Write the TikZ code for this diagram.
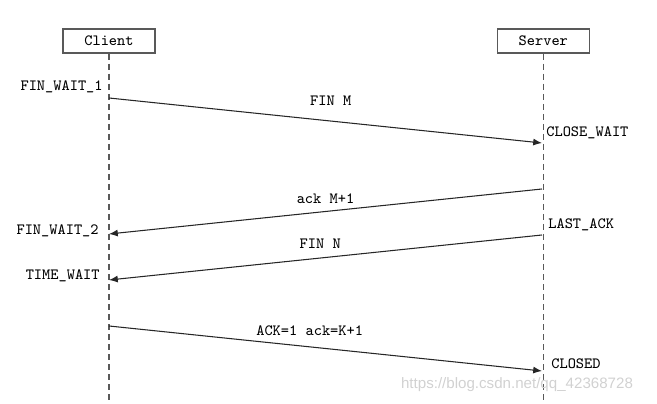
\documentclass[tikz,border=0pt]{standalone}
\usepackage{fontspec}
\setsansfont{Liberation Sans}
\usetikzlibrary{arrows.meta, positioning, calc}

\begin{document}
\begin{tikzpicture}[
            x=0.02cm, y=-0.02cm,
            box/.style={draw=black!65, line width=0.8pt, rectangle, minimum width=1.84cm, minimum height=0.48cm, inner sep=0pt, font=\ttfamily\fontsize{8.9}{10}\selectfont},
            state/.style={inner sep=0pt, font=\ttfamily\fontsize{8.9}{10}\selectfont},
            lbl/.style={inner sep=0pt, font=\ttfamily\fontsize{8.9}{10}\selectfont},
            life/.style={draw=black!65, line width=0.7pt, dash pattern=on 3.4pt off 2.3pt},
            msg/.style={->, draw=black!85, line width=0.6pt},
            >={Latex[length=5pt, width=4pt]}
        ]
            \useasboundingbox (0,0) rectangle (657,404);

            % Client and Server
            \node[box] (client) at (109,41) {Client};
            \node[box, right=6.82cm of client] (server) {Server};

            % Lifelines
            \draw[life] (client.south) -- (client.south |- 0,404);
            \draw[life] (server.south) -- (server.south |- 0,404);

            % Points on the lifelines
            \coordinate (c1) at (109,98);
            \coordinate (s1) at (542,143);
            \coordinate (s2) at (542,189);
            \coordinate (c2) at (109,234);
            \coordinate (s3) at (542,235);
            \coordinate (c3) at (109,280);
            \coordinate (c4) at (109,326);
            \coordinate (s4) at (542,371);

            % States
            \node[state, anchor=east] (fw1) at (103,87) {FIN\_WAIT\_1};
            \node[state, anchor=west] (cw) at (546,133) {CLOSE\_WAIT};
            \node[state, anchor=west] (la) at (548,225) {LAST\_ACK};
            \node[state, anchor=east] (fw2) at (99,231) {FIN\_WAIT\_2};
            \node[state, anchor=east] (tw) at (100,276) {TIME\_WAIT};
            \node[state, anchor=west] (cl) at (551,364) {CLOSED};

            % Messages
            \draw[msg] (c1) -- node[lbl, above=8pt, xshift=3pt] {FIN M} (s1);
            \draw[msg] (s2) -- node[lbl, above=4pt] {ack M+1} (c2);
            \draw[msg] (s3) -- node[lbl, above=5pt, xshift=-3pt] {FIN N} (c3);
            \draw[msg] (c4) -- node[lbl, above=7pt, xshift=-9pt] {ACK=1 ack=K+1} (s4);

            % Watermark
            \node[text=black!18, inner sep=0pt, font=\sffamily\fontsize{8.6}{10}\selectfont] (wm) at (517,385) {https://blog.csdn.net/qq\_42368728};
        \end{tikzpicture}
\end{document}
